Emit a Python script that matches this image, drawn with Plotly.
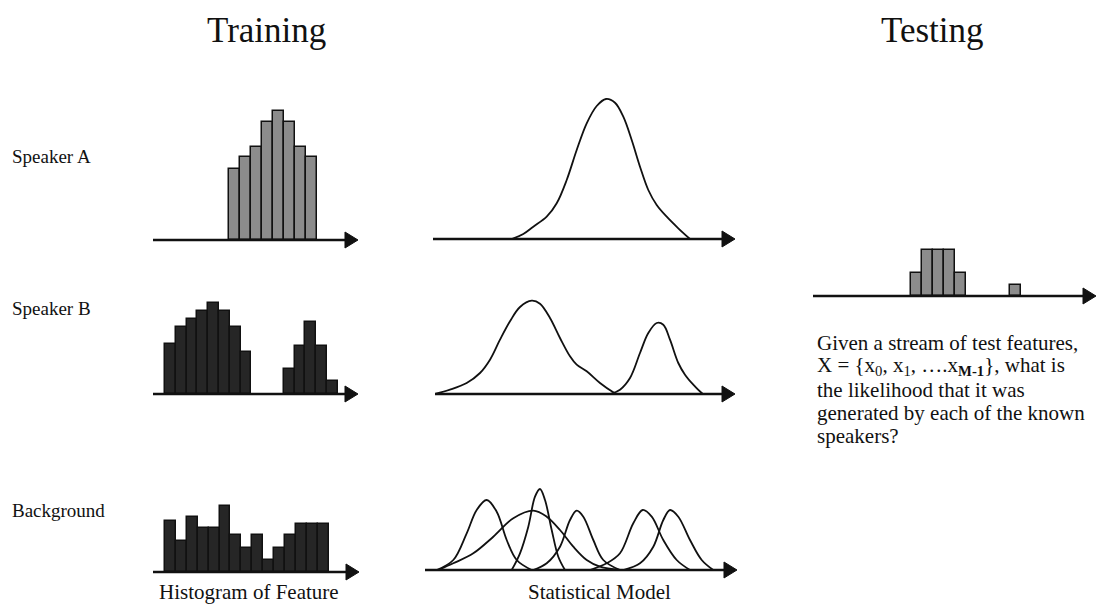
import plotly.graph_objects as go

W, H = 1097, 604

# ---- Feature histograms (bin index -> bar height) ----
spk_a_bins = [0, 1, 2, 3, 4, 5, 6, 7]
spk_a_counts = [71, 83, 93, 118, 129, 118, 93, 83]

spk_b_bins = [0, 1, 2, 3, 4, 5, 6, 7, 11, 12, 13, 14, 15]
spk_b_counts = [50, 67, 75, 83, 91, 83, 67, 42, 25, 48, 72, 48, 13]

bg_bins = [0, 1, 2, 3, 4, 5, 6, 7, 8, 9, 10, 11, 12, 13, 14]
bg_counts = [51, 31, 55, 44, 44, 66, 37, 24, 37, 12, 24, 37, 48, 48, 48]

test_bins = [0, 1, 2, 3, 4, 9]
test_counts = [2, 4, 4, 4, 2, 1]

# ---- Statistical models (feature value, density) ----
model_a_x = [78.7, 90.3, 100.3, 113.7, 123.7, 133.7, 143.7, 153.7, 163.7, 173,
             182, 190.3, 198.7, 207, 215.3, 223.7, 233.7, 245.3, 257]
model_a_y = [0, 5, 12.3, 22.3, 35.7, 59, 89, 115.7, 133, 140,
             136.3, 122.3, 99, 72.3, 49, 34, 22.3, 10.7, 0]

model_b1_x = [0, 15, 31.7, 45, 55, 65, 75, 85, 96.7, 105, 115, 125, 135,
              141.7, 151.7, 165, 178.3, 181.7]
model_b1_y = [0, 4.3, 11, 21, 34.3, 54.3, 72.7, 87, 93.3, 90.3, 76, 56, 37.7,
              29.3, 22.7, 11, 1.7, 0]
model_b2_x = [175, 185, 195, 205, 213.3, 221.7, 228.3, 235, 243.3, 250, 258.3,
              266.7, 268.3]
model_b2_y = [0, 4.3, 16, 41, 61, 71, 69.3, 54.3, 31, 19.3, 9.3, 1, 0]

bg_model_x = [
    [11.7, 28.3, 41.7, 51.7, 61.7, 71.7, 81.7, 91.7, 106.7],
    [13.3, 28.3, 48.3, 68.3, 88.3, 108.3, 121.7, 135, 148.3, 161.7, 175, 195],
    [86.7, 95, 103.3, 110, 115, 120, 126.7, 133.3, 140],
    [108.3, 121.7, 135, 145, 151.7, 158.3, 168.3, 178.3, 195],
    [165, 181.7, 195, 208.3, 217.7, 226.7, 238.3, 251.7, 265],
    [198.3, 215, 228.3, 238.3, 245, 253.3, 265, 276.7, 288.3],
]
bg_model_y = [
    [0, 10, 36.7, 60, 70, 58.3, 30, 10, 0],
    [0, 6.7, 16.7, 33.3, 51.7, 59.3, 53.3, 40, 23.3, 10, 3.3, 0],
    [0, 16.7, 43.3, 73.3, 81, 70, 40, 13.3, 0],
    [0, 6.7, 23.3, 50, 59.3, 53.3, 30, 10, 0],
    [0, 6.7, 16.7, 46.7, 60, 53.3, 30, 10, 0],
    [0, 6.7, 23.3, 50, 60, 53.3, 30, 10, 0],
]

# ---- Text ----
titles = ["Training", "Testing"]
row_labels = ["Speaker A", "Speaker B", "Background"]
column_captions = ["Histogram of Feature", "Statistical Model"]
question_lines = [
    "Given a stream of test features,",
    "X = {x<sub>0</sub>, x<sub>1</sub>, ….x<sub><b>M-1</b></sub>}, what is",
    "the likelihood that it was",
    "generated by each of the known",
    "speakers?",
]

LIGHT_BAR = "#8c8c8c"
DARK_BAR = "#262626"
INK = "#111111"
SERIF = "Liberation Serif"

fig = go.Figure()
layout = dict(
    width=W, height=H, autosize=False,
    margin=dict(l=0, r=0, t=0, b=0),
    paper_bgcolor="white", plot_bgcolor="rgba(0,0,0,0)",
    showlegend=False,
)
shapes = []
annotations = []


def px_x(px):
    return px / W


def px_y(py):
    return 1 - py / H


def add_panel(idx, x0, tip, base, top, xrange, yrange):
    """Invisible axis pair occupying a pixel box, with an arrowed baseline."""
    sx = "" if idx == 1 else str(idx)
    layout["xaxis" + sx] = dict(domain=[px_x(x0), px_x(tip)], range=xrange,
                                visible=False, fixedrange=True, anchor="y" + sx)
    layout["yaxis" + sx] = dict(domain=[px_y(base), px_y(top)], range=yrange,
                                visible=False, fixedrange=True, anchor="x" + sx)
    head_len, head_half = 13, 8
    shapes.append(dict(type="line", xref="paper", yref="paper",
                       x0=px_x(x0), x1=px_x(tip - head_len + 2),
                       y0=px_y(base), y1=px_y(base),
                       line=dict(color=INK, width=2.5)))
    path = "M {:.5f} {:.5f} L {:.5f} {:.5f} L {:.5f} {:.5f} Z".format(
        px_x(tip), px_y(base),
        px_x(tip - head_len), px_y(base - head_half),
        px_x(tip - head_len), px_y(base + head_half))
    shapes.append(dict(type="path", xref="paper", yref="paper", path=path,
                       fillcolor=INK, line=dict(color=INK, width=1)))
    return "x" + sx, "y" + sx


def hist_range(x0, tip, left_edge, bin_px):
    return [(x0 - left_edge) / bin_px - 0.5, (tip - left_edge) / bin_px - 0.5]


def add_bars(axes, bins, counts, color):
    fig.add_trace(go.Bar(x=bins, y=counts, width=1, xaxis=axes[0], yaxis=axes[1],
                         marker=dict(color=color, line=dict(color=INK, width=1.5)),
                         hoverinfo="skip"))


def add_curve(axes, xs, ys):
    fig.add_trace(go.Scatter(x=xs, y=ys, mode="lines", xaxis=axes[0], yaxis=axes[1],
                             line=dict(color=INK, width=1.8, shape="spline", smoothing=1.0),
                             hoverinfo="skip"))


# Histograms column
ax = add_panel(1, 153, 358, 240, 100, hist_range(153, 358, 229, 11), [0, 140])
add_bars(ax, spk_a_bins, spk_a_counts, LIGHT_BAR)

ax = add_panel(2, 153, 358, 394, 290, hist_range(153, 358, 165, 10.8), [0, 104])
add_bars(ax, spk_b_bins, spk_b_counts, DARK_BAR)

ax = add_panel(3, 153, 359, 572, 492, hist_range(153, 359, 165, 10.9), [0, 80])
add_bars(ax, bg_bins, bg_counts, DARK_BAR)

# Model column
ax = add_panel(4, 433, 735, 239, 90, [0, 302], [0, 149])
add_curve(ax, model_a_x, model_a_y)

ax = add_panel(5, 435, 735, 394, 290, [0, 300], [0, 104])
add_curve(ax, model_b1_x, model_b1_y)
add_curve(ax, model_b2_x, model_b2_y)

ax = add_panel(6, 425, 737, 570, 480, [0, 312], [0, 90])
for xs, ys in zip(bg_model_x, bg_model_y):
    add_curve(ax, xs, ys)

# Test histogram
ax = add_panel(7, 813, 1096, 296, 239, hist_range(813, 1096, 910.7, 11), [0, 5])
add_bars(ax, test_bins, test_counts, LIGHT_BAR)


def add_text(text, px, py, size, xanchor="center"):
    annotations.append(dict(text=text, x=px_x(px), y=px_y(py), xref="paper", yref="paper",
                            xanchor=xanchor, yanchor="middle", showarrow=False,
                            font=dict(family=SERIF, size=size, color=INK)))


add_text(titles[0], 266, 30, 35)
add_text(titles[1], 932, 30, 35)

for label, py in zip(row_labels, [157, 308, 510]):
    add_text(label, 10, py, 19, xanchor="left")

add_text(column_captions[0], 249, 592, 21)
add_text(column_captions[1], 599, 592, 21)

for i, line in enumerate(question_lines):
    add_text(line, 815, 343 + i * 23.3, 21, xanchor="left")

layout["shapes"] = shapes
layout["annotations"] = annotations
layout["bargap"] = 0
fig.update_layout(**layout)

fig.write_html("out.html")
